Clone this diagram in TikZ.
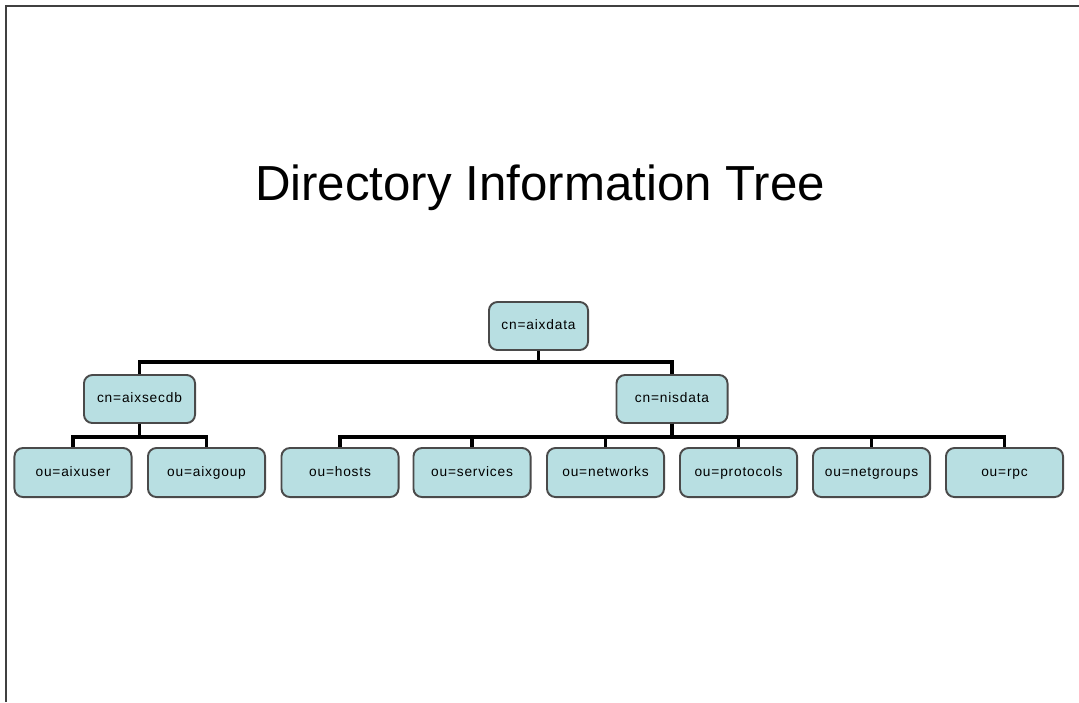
\documentclass[tikz,border=0pt]{standalone}
\usepackage{fontspec}
\setmainfont{Liberation Sans}
\newfontfamily\boxfont[LetterSpace=6]{Liberation Sans}
\definecolor{boxfill}{HTML}{B8DFE2}
\definecolor{boxline}{HTML}{4A4A4A}
\begin{document}
\begin{tikzpicture}[
			x=0.01cm, y=-0.01cm,
			box/.style={
					rectangle,
					rounded corners=2.4pt,
					draw=boxline,
					fill=boxfill,
					line width=0.55pt,
					minimum width=1.17cm,
					minimum height=0.49cm,
					inner sep=0pt,
					text height=2.9pt,
					text depth=0.9pt,
					font=\boxfont\fontsize{3.9}{4.5}\selectfont
				},
			top/.style={box, minimum width=0.99cm, minimum height=0.48cm},
			mid/.style={box, minimum width=1.11cm, minimum height=0.48cm},
			conn/.style={line width=1pt, black}
		]
		\useasboundingbox (0,0) rectangle (1079,702);

		% Frame
		\draw[black!75, line width=0.6pt] (6,702) -- (6,6) -- (1079,6);

		% Title
		\node[font=\fontsize{14}{16}\selectfont] (title) at (540,188) {Directory Information Tree};

		% Nodes
		\node[top] (aixdata) at (538.5,326) {cn=aixdata};
		\node[mid] (aixsecdb) at (139.5,399) {cn=aixsecdb};
		\node[mid] (nisdata) at (672,399) {cn=nisdata};

		\node[box] (aixuser) at (73,472.5) {ou=aixuser};
		\node[box] (aixgoup) at (206.5,472.5) {ou=aixgoup};
		\node[box] (hosts) at (340,472.5) {ou=hosts};
		\node[box] (services) at (472,472.5) {ou=services};
		\node[box] (networks) at (605.5,472.5) {ou=networks};
		\node[box] (protocols) at (738.5,472.5) {ou=protocols};
		\node[box] (netgroups) at (871.5,472.5) {ou=netgroups};
		\node[box] (rpc) at (1004.5,472.5) {ou=rpc};

		% Connectors
		\draw[conn] (aixdata.south) -- ++(0,11) -| (aixsecdb.north);
		\draw[conn] (aixdata.south) -- ++(0,11) -| (nisdata.north);

		\draw[conn] (aixsecdb.south) -- ++(0,13) -| (aixuser.north);
		\draw[conn] (aixsecdb.south) -- ++(0,13) -| (aixgoup.north);

		\foreach \leaf in {hosts, services, networks, protocols, netgroups, rpc}
			\draw[conn] (nisdata.south) -- ++(0,13) -| (\leaf.north);

	\end{tikzpicture}
\end{document}
